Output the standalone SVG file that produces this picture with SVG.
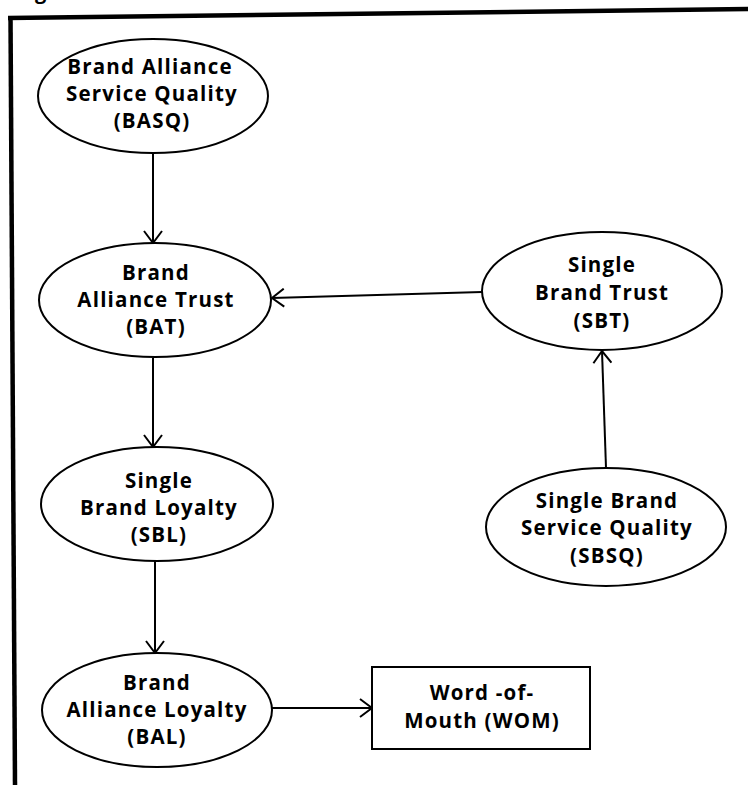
<svg xmlns="http://www.w3.org/2000/svg" width="748" height="785" viewBox="0 0 748 785">
  <style>
    .node ellipse, .node rect { fill: #ffffff; stroke: #000000; stroke-width: 2; }
    .node text { font-family: "Open Sans", "Liberation Sans", sans-serif; font-weight: 700; font-size: 20.5px; letter-spacing: 1.2px; fill: #000000; text-anchor: middle; }
    .edge { stroke: #000000; stroke-width: 2; fill: none; }
    .frame { stroke: #000000; stroke-width: 4.5; fill: none; }
  </style>
  <defs>
    <marker id="open-arrow" viewBox="0 0 14 20" refX="13" refY="10" markerWidth="14" markerHeight="20" markerUnits="userSpaceOnUse" orient="auto">
      <path d="M1,1 L13,10 L1,19" fill="none" stroke="#000000" stroke-width="2"/>
    </marker>
  </defs>

  <rect x="0" y="0" width="748" height="785" fill="#ffffff"/>

  <!-- caption letter clipped at the top edge -->
  <text x="35" y="-1" font-family="Open Sans, Liberation Sans, sans-serif" font-weight="700" font-size="20">g</text>

  <!-- outer frame: top and left rules -->
  <g id="frame">
    <path class="frame" d="M8,18 L748,9"/>
    <path class="frame" d="M10.5,16 L15,785"/>
  </g>

  <!-- connectors -->
  <g id="connectors">
    <line class="edge" x1="153" y1="153" x2="153" y2="243" marker-end="url(#open-arrow)"/>
    <line class="edge" x1="482" y1="292" x2="272" y2="298" marker-end="url(#open-arrow)"/>
    <line class="edge" x1="153" y1="358" x2="153" y2="447" marker-end="url(#open-arrow)"/>
    <line class="edge" x1="155" y1="561" x2="155" y2="653" marker-end="url(#open-arrow)"/>
    <line class="edge" x1="272" y1="708" x2="372" y2="708" marker-end="url(#open-arrow)"/>
    <line class="edge" x1="606" y1="468" x2="602" y2="351" stroke-width="3" marker-end="url(#open-arrow)"/>
  </g>

  <g id="BASQ" class="node">
    <ellipse cx="153" cy="96" rx="115" ry="57"/>
    <text x="150" y="74">Brand Alliance</text>
    <text x="152" y="101">Service Quality</text>
    <text x="152" y="128">(BASQ)</text>
  </g>

  <g id="BAT" class="node">
    <ellipse cx="155" cy="300" rx="116" ry="57"/>
    <text x="156" y="280">Brand</text>
    <text x="156" y="307">Alliance Trust</text>
    <text x="156" y="334">(BAT)</text>
  </g>

  <g id="SBT" class="node">
    <ellipse cx="602" cy="291" rx="120" ry="59"/>
    <text x="602" y="272">Single</text>
    <text x="602" y="300">Brand Trust</text>
    <text x="602" y="328">(SBT)</text>
  </g>

  <g id="SBL" class="node">
    <ellipse cx="157" cy="504" rx="116" ry="57"/>
    <text x="159" y="488">Single</text>
    <text x="159" y="515">Brand Loyalty</text>
    <text x="159" y="542">(SBL)</text>
  </g>

  <g id="SBSQ" class="node">
    <ellipse cx="606" cy="527" rx="120" ry="59"/>
    <text x="607" y="508">Single Brand</text>
    <text x="607" y="535">Service Quality</text>
    <text x="607" y="563">(SBSQ)</text>
  </g>

  <g id="BAL" class="node">
    <ellipse cx="157" cy="710" rx="115" ry="57"/>
    <text x="157" y="690">Brand</text>
    <text x="157" y="717">Alliance Loyalty</text>
    <text x="157" y="744">(BAL)</text>
  </g>

  <g id="WOM" class="node">
    <rect x="372" y="667" width="218" height="82"/>
    <text x="482" y="700">Word -of-</text>
    <text x="482" y="728">Mouth (WOM)</text>
  </g>
</svg>
